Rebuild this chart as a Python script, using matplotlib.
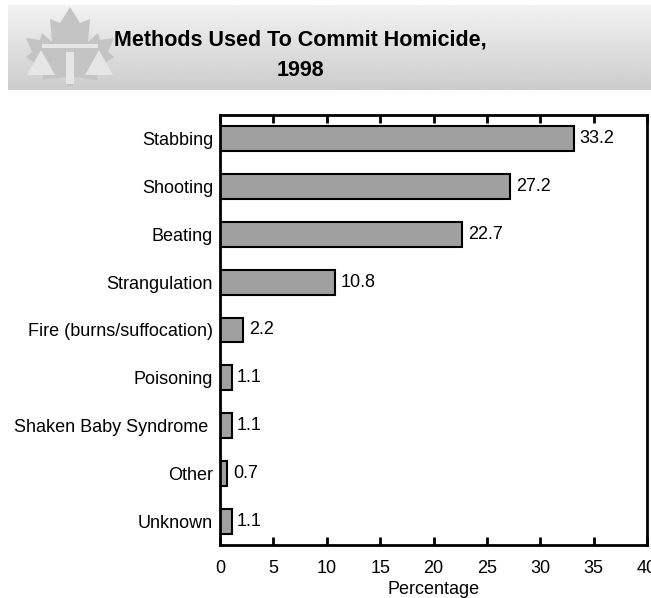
import numpy as np
from matplotlib import pyplot as plt
from matplotlib.patches import Polygon, Rectangle

plt.rcParams['font.family'] = ['Liberation Sans', 'DejaVu Sans']

# data, top to bottom as in the chart
methods = ["Stabbing", "Shooting", "Beating", "Strangulation",
           "Fire (burns/suffocation)", "Poisoning", "Shaken Baby Syndrome ",
           "Other", "Unknown"]
percentages = [33.2, 27.2, 22.7, 10.8, 2.2, 1.1, 1.1, 0.7, 1.1]
x_ticks = [0, 5, 10, 15, 20, 25, 30, 35, 40]

W, H = 651, 598
fs = 13
fig = plt.figure(figsize=(W / 100, H / 100), dpi=100)

# header banner with gradient
ban = fig.add_axes([8 / W, 1 - 90 / H, (W - 8) / W, 85 / H])
grad = np.linspace(0.95, 0.80, 100).reshape(-1, 1)
ban.imshow(grad, cmap='gray', vmin=0, vmax=1, aspect='auto', extent=[8, W, 90, 5])
ban.set_xlim(8, W)
ban.set_ylim(90, 5)
ban.axis('off')

# simple logo (leaf + scales) in pixel coordinates
leaf = [(70, 7), (60, 23), (50, 19), (52, 42), (42, 33), (40, 40), (26, 38), (32, 52),
        (26, 57), (45, 70), (42, 80), (67, 77), (67, 86), (73, 86), (73, 77), (98, 80),
        (95, 70), (114, 57), (108, 52), (114, 38), (100, 40), (98, 33), (88, 42),
        (90, 19), (80, 23)]
ban.add_patch(Polygon(leaf, closed=True, fc='#c4c4c4', ec='none'))
ban.add_patch(Rectangle((42, 44), 56, 4, fc='#e6e6e6', ec='none'))
ban.add_patch(Rectangle((66, 52), 8, 32, fc='#e6e6e6', ec='none'))
ban.add_patch(Polygon([(41, 50), (27, 75), (55, 75)], closed=True, fc='#e6e6e6', ec='none'))
ban.add_patch(Polygon([(99, 50), (85, 75), (113, 75)], closed=True, fc='#e6e6e6', ec='none'))

ban.text(300, 40, "Methods Used To Commit Homicide,", ha='center', va='center',
         fontsize=15.5, fontweight='bold')
ban.text(300, 70, "1998", ha='center', va='center', fontsize=15.5, fontweight='bold')

# main chart
ax = fig.add_axes([220 / W, 1 - 545 / H, 427 / W, 430 / H])
y = np.arange(len(methods))
ax.barh(y, percentages, height=0.52, color='#a0a0a0', edgecolor='black', linewidth=1.5)
for yi, v in zip(y, percentages):
    ax.text(v + 0.5, yi, f"{v:.1f}", va='center', ha='left', fontsize=fs)

ax.set_xlim(0, 40)
ax.set_ylim(len(methods) - 0.5, -0.5)
ax.set_yticks(y)
ax.set_yticklabels(methods, fontsize=fs)
ax.tick_params(axis='y', length=0, pad=5)
ax.set_xticks(x_ticks)
ax.set_xticklabels([str(t) for t in x_ticks], fontsize=fs)
ax.tick_params(axis='x', direction='in', top=True, length=6, width=2, pad=11)
for s in ax.spines.values():
    s.set_linewidth(2)
ax.set_xlabel("Percentage", fontsize=fs, labelpad=3)

fig.savefig("out.png", dpi=100)
